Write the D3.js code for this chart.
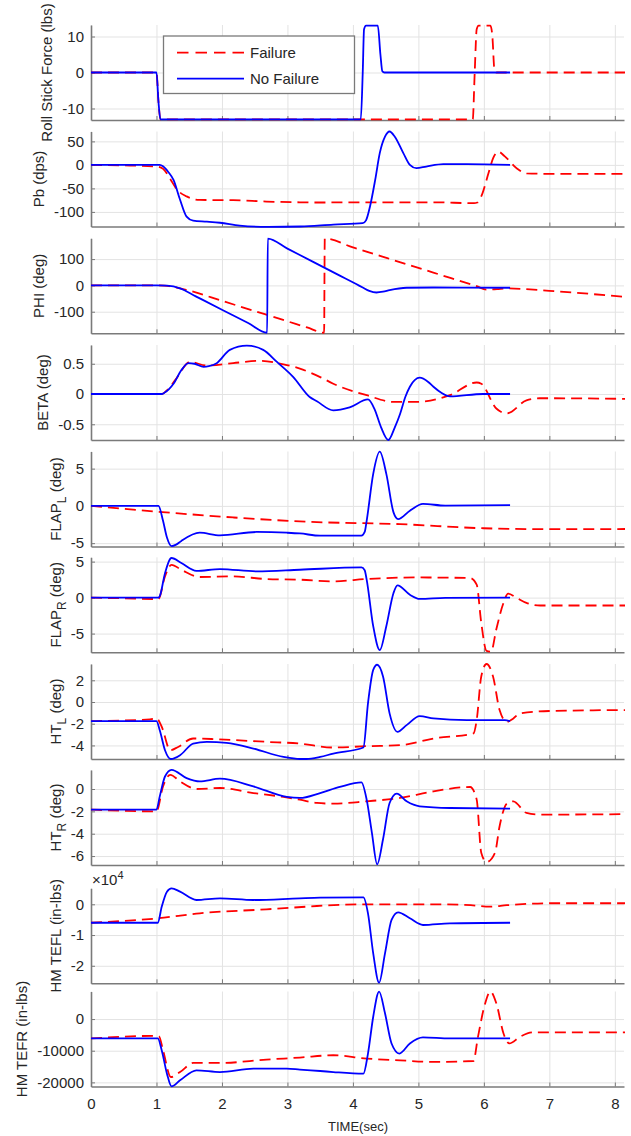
<!DOCTYPE html>
<html><head><meta charset="utf-8">
<script src="https://cdn.jsdelivr.net/npm/d3@7"></script>
<style>
body{margin:0;background:#fff}
svg{display:block}
text{font-family:"Liberation Sans",Arial,Helvetica,sans-serif}
</style>
</head><body>
<svg id="chart" width="631" height="1136"></svg>
<script>
// ---------------- DATA ----------------
const seriesNames = ["Failure", "No Failure"];
const xTicks = [0, 1, 2, 3, 4, 5, 6, 7, 8];
const xLabel = "TIME(sec)";

const yLabels = [
  [["Roll Stick Force (lbs)", 0]],
  [["Pb (dps)", 0]],
  [["PHI (deg)", 0]],
  [["BETA (deg)", 0]],
  [["FLAP", 0], ["L", 1], [" (deg)", 0]],
  [["FLAP", 0], ["R", 1], [" (deg)", 0]],
  [["HT", 0], ["L", 1], [" (deg)", 0]],
  [["HT", 0], ["R", 1], [" (deg)", 0]],
  [["HM TEFL (in-lbs)", 0]],
  [["HM TEFR (in-lbs)", 0]]
];

const yTicks = [
  [-10, 0, 10],
  [-100, -50, 0, 50],
  [-100, 0, 100],
  [-0.5, 0, 0.5],
  [-5, 0, 5],
  [-5, 0, 5],
  [-4, -2, 0, 2],
  [-6, -4, -2, 0],
  [-20000, -10000, 0],
  [-20000, -10000, 0]
];
const yTickLabels = [
  ["-10", "0", "10"],
  ["-100", "-50", "0", "50"],
  ["-100", "0", "100"],
  ["-0.5", "0", "0.5"],
  ["-5", "0", "5"],
  ["-5", "0", "5"],
  ["-4", "-2", "0", "2"],
  ["-6", "-4", "-2", "0"],
  ["-2", "-1", "0"],
  ["-20000", "-10000", "0"]
];
const yDomains = [
  [-13.2, 13.2], [-131, 71], [-182, 179], [-0.76, 0.81], [-5.45, 7.3],
  [-7.6, 5.6], [-5.25, 3.5], [-6.8, 1.7], [-25700, 5200], [-21300, 8700]
];

// [time, value]
const rollFail = [[0,0],[1.0,0],[1.03,-8],[1.06,-13],[5.83,-13],[5.86,0],[5.89,12],[5.92,13],[6.10,13],[6.13,10],[6.16,1],[6.19,0],[8.2,0]];
const rollNo = [[0,0],[1.0,0],[1.03,-8],[1.06,-13],[4.12,-13],[4.15,0],[4.17,12],[4.20,13],[4.38,13],[4.42,5],[4.45,0.3],[4.48,0],[6.4,0]];

const pbFail = [[0,0],[0.5,-1],[1.0,-3.5],[1.1,-8],[1.21,-30],[1.31,-52],[1.46,-67],[1.66,-74.5],[2.17,-75],[2.68,-78],[3.19,-79.5],[3.39,-80],[4.21,-79.5],[5.23,-79.5],[5.85,-81.5],[5.9,-80],[5.96,-67],[6.07,-18],[6.14,14],[6.22,28],[6.32,18],[6.50,-7],[6.65,-18],[7.0,-19],[8.2,-19]];
const pbNo = [[0,0],[1.05,0],[1.10,-3],[1.18,-15],[1.26,-32],[1.36,-74],[1.46,-110],[1.56,-118.5],[1.77,-120.6],[1.97,-123],[2.27,-129],[2.7,-132],[3.2,-131],[3.7,-127],[4.15,-124],[4.20,-118],[4.26,-89],[4.34,-32],[4.41,25],[4.49,60],[4.56,71],[4.64,60],[4.77,25],[4.87,0],[4.97,-7],[5.12,-3.5],[5.38,1.5],[5.74,1.5],[6.4,0]];

const phiFail = [[0,0],[1.0,0],[1.2,-3],[1.51,-20.5],[2.0,-58.6],[2.5,-97.5],[3.0,-136.4],[3.3,-159.8],[3.56,-180],[3.57,178],[4.0,144.5],[4.5,105.5],[5.0,66.5],[5.5,27.4],[5.89,-3],[6.04,-16],[6.2,-14],[6.35,-11.5],[7.0,-20.5],[8.2,-45]];
const phiNo = [[0,0],[1.0,0],[1.16,-1],[1.36,-11],[1.6,-41.5],[2.0,-92.3],[2.4,-143],[2.69,-180],[2.70,178],[3.0,139.6],[3.4,88.4],[3.8,37.1],[4.05,5.1],[4.15,-8],[4.25,-21],[4.36,-27],[4.46,-24],[4.56,-18],[4.82,-9],[5.23,-8],[6.4,-9]];

const betaFail = [[0,0],[1.08,0],[1.15,0.05],[1.3,0.25],[1.51,0.53],[1.77,0.47],[2.17,0.51],[2.58,0.55],[2.94,0.49],[3.19,0.42],[3.50,0.28],[3.70,0.17],[4.21,-0.02],[4.62,-0.13],[4.97,-0.13],[5.48,-0.02],[5.89,0.19],[5.96,0.17],[6.19,-0.24],[6.35,-0.32],[6.65,-0.105],[6.85,-0.07],[8.2,-0.08]];
const betaNo = [[0,0],[1.08,0],[1.12,0.02],[1.26,0.17],[1.38,0.395],[1.49,0.51],[1.58,0.50],[1.72,0.45],[1.80,0.46],[1.92,0.51],[2.12,0.73],[2.38,0.80],[2.63,0.73],[2.84,0.53],[3.09,0.28],[3.34,-0.05],[3.45,-0.12],[3.70,-0.27],[3.95,-0.22],[4.23,-0.09],[4.33,-0.25],[4.43,-0.55],[4.54,-0.76],[4.64,-0.55],[4.72,-0.33],[4.80,-0.05],[4.87,0.12],[5.02,0.27],[5.15,0.2],[5.23,0.12],[5.35,0.02],[5.48,-0.04],[5.99,0],[6.4,0]];

const flapLFail = [[0,0],[1.0,-0.77],[2.17,-1.55],[3.29,-2.13],[4.72,-2.45],[5.99,-3.0],[7.0,-3.13],[8.2,-3.1]];
const flapLNo = [[0,0],[1.03,0],[1.10,-2.0],[1.16,-4.25],[1.23,-5.4],[1.30,-5.2],[1.38,-4.7],[1.66,-3.6],[1.97,-3.95],[2.53,-3.5],[2.99,-3.6],[3.19,-3.7],[3.50,-4.0],[4.13,-4.0],[4.18,-3.5],[4.21,-2.0],[4.31,4.3],[4.41,7.27],[4.51,4.3],[4.62,-0.87],[4.69,-1.77],[4.87,-0.64],[5.07,0.27],[5.41,0.04],[6.4,0.1]];

const flapRFail = [[0,0],[0.5,-0.1],[1.03,-0.2],[1.13,2.95],[1.23,4.56],[1.38,3.87],[1.66,2.86],[2.17,2.95],[2.68,2.58],[3.19,2.49],[3.70,2.26],[4.21,2.58],[4.97,2.8],[5.79,2.72],[5.89,1.8],[5.96,-3.5],[6.04,-7.4],[6.11,-7.5],[6.19,-4.4],[6.30,-0.73],[6.37,0.55],[6.50,-0.04],[6.65,-0.73],[6.86,-1.1],[8.2,-1.1]];
const flapRNo = [[0,0],[1.03,0],[1.05,0.2],[1.13,3.4],[1.23,5.5],[1.38,4.8],[1.61,3.7],[1.97,3.97],[2.53,3.65],[3.19,3.87],[4.13,4.2],[4.18,3.8],[4.21,2.5],[4.31,-3.97],[4.41,-7.3],[4.51,-3.97],[4.62,0.65],[4.68,1.7],[4.87,0.4],[5.02,-0.18],[5.41,-0.04],[6.4,0]];

const htLFail = [[0,-1.76],[0.9,-1.6],[1.0,-1.51],[1.08,-2.28],[1.21,-4.44],[1.33,-4.14],[1.56,-3.36],[1.92,-3.43],[2.68,-3.67],[3.19,-3.83],[3.70,-4.19],[4.21,-4.07],[4.72,-3.98],[5.23,-3.36],[5.84,-2.9],[5.89,-1.67],[5.96,2.35],[6.04,3.5],[6.14,2.35],[6.24,-0.74],[6.35,-1.82],[6.45,-1.51],[6.55,-1.05],[7.0,-0.83],[8.2,-0.74]];
const htLNo = [[0,-1.76],[1.0,-1.76],[1.05,-2.6],[1.13,-4.44],[1.22,-5.25],[1.36,-4.9],[1.56,-3.83],[1.77,-3.67],[2.07,-3.77],[2.48,-4.29],[2.94,-5.06],[3.19,-5.25],[3.29,-5.25],[3.50,-5.06],[3.70,-4.75],[4.16,-4.19],[4.23,-0.12],[4.31,2.96],[4.37,3.43],[4.46,2.35],[4.56,-1.05],[4.68,-2.75],[4.82,-2.13],[5.02,-1.3],[5.23,-1.51],[5.74,-1.67],[6.32,-1.67],[6.4,-1.76]];

const htRFail = [[0,-1.84],[1.0,-2.0],[1.10,0.23],[1.21,1.27],[1.36,0.68],[1.61,0],[1.97,0.09],[2.48,-0.36],[2.94,-0.71],[3.19,-0.95],[3.45,-1.25],[3.70,-1.31],[4.21,-1.1],[4.72,-0.8],[5.23,-0.21],[5.79,0.18],[5.89,-0.95],[5.96,-5.7],[6.04,-6.54],[6.17,-5.7],[6.24,-3.33],[6.35,-1.31],[6.45,-1.1],[6.65,-2.14],[6.86,-2.29],[8.2,-2.25]];
const htRNo = [[0,-1.84],[1.0,-1.84],[1.05,-0.66],[1.13,1.12],[1.23,1.72],[1.46,0.98],[1.66,0.68],[1.97,0.92],[2.48,0.23],[2.99,-0.71],[3.19,-0.8],[3.50,-0.36],[3.80,0.18],[4.13,0.59],[4.21,-0.95],[4.29,-3.92],[4.37,-6.74],[4.46,-4.5],[4.56,-1.25],[4.67,-0.42],[4.82,-1.1],[5.02,-1.55],[5.48,-1.7],[6.4,-1.75]];

const tefLFail = [[0,-6000],[1.02,-4560],[1.66,-2930],[2.68,-1630],[3.29,-780],[3.45,-550],[4.21,0],[5.23,0],[5.8,-300],[6.09,-780],[6.35,-300],[7.0,330],[8.2,330]];
const tefLNo = [[0,-6000],[1.02,-6000],[1.08,-780],[1.16,4100],[1.23,5200],[1.36,4100],[1.61,1400],[1.97,1950],[2.48,1400],[3.19,1950],[3.50,2150],[4.16,2280],[4.23,-2930],[4.31,-15960],[4.40,-25500],[4.49,-15960],[4.59,-5100],[4.69,-2600],[4.87,-4560],[5.07,-6740],[5.48,-6190],[6.4,-6000]];

const tefRFail = [[0,-6130],[1.0,-5300],[1.04,-5500],[1.10,-9840],[1.22,-18300],[1.36,-16730],[1.56,-13870],[1.97,-13870],[2.68,-12800],[3.19,-12160],[3.70,-11430],[4.21,-12480],[4.72,-13020],[5.23,-13550],[5.84,-13240],[5.91,-5620],[6.02,4980],[6.10,8670],[6.19,4980],[6.30,-4540],[6.39,-7710],[6.55,-5620],[6.75,-4220],[8.2,-4220]];
const tefRNo = [[0,-6130],[1.02,-6130],[1.08,-9840],[1.16,-17240],[1.23,-21270],[1.36,-19360],[1.61,-16190],[1.97,-16730],[2.48,-15650],[2.99,-15650],[3.19,-15970],[3.50,-16410],[3.70,-16730],[4.16,-17240],[4.23,-10890],[4.31,730],[4.40,8670],[4.49,1810],[4.59,-7710],[4.71,-10890],[4.87,-7710],[5.07,-5810],[5.48,-6130],[6.4,-6130]];

const failSeries = [rollFail, pbFail, phiFail, betaFail, flapLFail, flapRFail, htLFail, htRFail, tefLFail, tefRFail];
const noFailSeries = [rollNo, pbNo, phiNo, betaNo, flapLNo, flapRNo, htLNo, htRNo, tefLNo, tefRNo];

// ---------------- LAYOUT ----------------
const plotLeft = 91, plotRight = 624;
const panelTops = [25, 131.5, 238.3, 345, 451.5, 557.3, 664, 770, 888.3, 991.5];
const panelH = 95;
const FS = 15;
const axisColor = "#7a7a7a", gridColor = "#e3e3e3", textColor = "#262626";
const redColor = "#ff0000", blueColor = "#0000ff";

const svg = d3.select("#chart");
const x = d3.scaleLinear().domain([0, 8.14]).range([plotLeft, plotRight]);
const defs = svg.append("defs");

panelTops.forEach((top, i) => {
  const bottom = top + panelH;
  const y = d3.scaleLinear().domain(yDomains[i]).range([bottom, top]);
  const g = svg.append("g");

  // grid
  g.append("g").attr("transform", `translate(0,${bottom})`)
    .call(d3.axisBottom(x).tickValues(xTicks).tickSize(-panelH).tickFormat(""))
    .call(s => { s.select(".domain").remove(); s.selectAll("line").attr("stroke", gridColor).attr("stroke-width", 1); });
  g.append("g").attr("transform", `translate(${plotLeft},0)`)
    .call(d3.axisLeft(y).tickValues(yTicks[i]).tickSize(-(plotRight - plotLeft)).tickFormat(""))
    .call(s => { s.select(".domain").remove(); s.selectAll("line").attr("stroke", gridColor).attr("stroke-width", 1); });

  // axes
  const xa = g.append("g").attr("transform", `translate(0,${bottom})`)
    .call(d3.axisBottom(x).tickValues(xTicks).tickSizeInner(-4).tickSizeOuter(0).tickPadding(12)
      .tickFormat(i === panelTops.length - 1 ? d3.format("d") : ""));
  xa.select(".domain").attr("stroke", axisColor).attr("stroke-width", 1.6);
  xa.selectAll(".tick line").attr("stroke", axisColor).attr("stroke-width", 1);
  xa.selectAll("text").attr("fill", textColor).attr("font-size", FS).attr("font-family", null);

  const ya = g.append("g").attr("transform", `translate(${plotLeft},0)`)
    .call(d3.axisLeft(y).tickValues(yTicks[i]).tickSizeInner(-4).tickSizeOuter(0).tickPadding(7)
      .tickFormat((d, k) => yTickLabels[i][k]));
  ya.select(".domain").attr("stroke", axisColor).attr("stroke-width", 1.6);
  ya.selectAll(".tick line").attr("stroke", axisColor).attr("stroke-width", 1);
  ya.selectAll("text").attr("fill", textColor).attr("font-size", FS).attr("font-family", null);

  // y label placed left of tick labels
  let minX = Infinity;
  ya.selectAll("text").each(function() { const b = this.getBBox(); minX = Math.min(minX, plotLeft + b.x); });
  const lx = minX - 5, ly = (top + bottom) / 2;
  const lab = g.append("text").attr("transform", `translate(${lx},${ly}) rotate(-90)`)
    .attr("text-anchor", "middle").attr("font-size", FS).attr("fill", textColor);
  yLabels[i].forEach(([t, sub]) => {
    if (sub) lab.append("tspan").attr("dy", 5).attr("font-size", 12).text(t);
    else lab.append("tspan").attr("dy", lab.selectAll("tspan").size() ? -5 : 0).text(t);
  });

  // data
  const cid = "clip" + i;
  defs.append("clipPath").attr("id", cid).append("rect")
    .attr("x", plotLeft - 1).attr("y", top - 1.5).attr("width", plotRight - plotLeft + 2).attr("height", panelH + 3);
  const line = d3.line().x(d => x(d[0])).y(d => y(d[1])).curve(d3.curveMonotoneX);
  const dg = g.append("g").attr("clip-path", `url(#${cid})`);
  dg.append("path").attr("d", line(failSeries[i])).attr("fill", "none")
    .attr("stroke", redColor).attr("stroke-width", 1.8).attr("stroke-dasharray", "11,6");
  dg.append("path").attr("d", line(noFailSeries[i])).attr("fill", "none")
    .attr("stroke", blueColor).attr("stroke-width", 1.8);

  if (i === 8) {
    const e = g.append("text").attr("x", plotLeft + 1).attr("y", top - 3).attr("font-size", FS).attr("fill", textColor);
    e.append("tspan").text("\u00d710");
    e.append("tspan").attr("dy", -6).attr("font-size", 11).text("4");
  }
});

// x label
svg.append("text").attr("x", 358).attr("y", 1131).attr("text-anchor", "middle")
  .attr("font-size", 13).attr("fill", textColor).text(xLabel);

// legend
const lg = svg.append("g");
lg.append("rect").attr("x", 163.5).attr("y", 36).attr("width", 191).attr("height", 57.5)
  .attr("fill", "#fff").attr("stroke", "#7a7a7a").attr("stroke-width", 1.3);
const legColors = [redColor, blueColor];
seriesNames.forEach((name, k) => {
  const yy = 52.7 + k * 26;
  lg.append("line").attr("x1", 177).attr("x2", 244).attr("y1", yy).attr("y2", yy)
    .attr("stroke", legColors[k]).attr("stroke-width", 1.8)
    .attr("stroke-dasharray", k === 0 ? "11.5,7" : null);
  lg.append("text").attr("x", 250).attr("y", yy + 5.5).attr("font-size", FS).attr("fill", textColor).text(name);
});
</script>
</body></html>
